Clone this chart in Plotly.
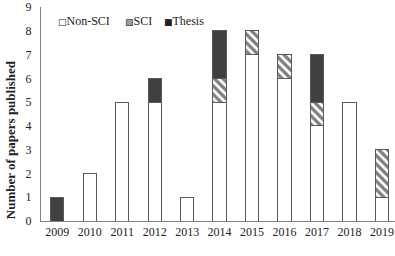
import plotly.graph_objects as go

years = ["2009", "2010", "2011", "2012", "2013", "2014", "2015", "2016", "2017", "2018", "2019"]
non_sci = [0, 2, 5, 5, 1, 5, 7, 6, 4, 5, 1]
sci = [0, 0, 0, 0, 0, 1, 1, 1, 1, 0, 2]
thesis = [1, 0, 0, 1, 0, 2, 0, 0, 2, 0, 0]
y_ticks = [0, 1, 2, 3, 4, 5, 6, 7, 8, 9]

font = "Liberation Serif, Times New Roman, serif"
edge = dict(color="#595959", width=1)

fig = go.Figure()
fig.add_trace(go.Bar(x=years, y=non_sci, name="Non-SCI",
                     marker=dict(color="white", line=edge)))
fig.add_trace(go.Bar(x=years, y=sci, name="SCI",
                     marker=dict(color="white", line=edge,
                                 pattern=dict(shape="\\", fgcolor="black", bgcolor="white",
                                              size=6, solidity=0.55))))
fig.add_trace(go.Bar(x=years, y=thesis, name="Thesis",
                     marker=dict(color="#404040", line=edge)))

sym = "<span style='font-family:DejaVu Sans;font-size:9px'>%s</span>"
legend_items = [("□", "Non-SCI", 0.042), ("▧", "SCI", 0.232), ("■", "Thesis", 0.342)]
for s, label, xp in legend_items:
    fig.add_annotation(xref="paper", yref="paper", x=xp, y=0.935, xanchor="left", yanchor="middle",
                       text=(sym % s) + label, showarrow=False,
                       font=dict(family=font, size=12, color="#222"))

fig.add_annotation(xref="paper", yref="paper", x=-0.086, y=0.38, xanchor="center", yanchor="middle",
                   text="<b>Number of papers published</b>", textangle=-90, showarrow=False,
                   font=dict(family=font, size=13, color="#222"))

fig.update_layout(
    barmode="stack",
    bargap=0.59,
    width=395, height=256,
    margin=dict(l=41, r=0, t=3, b=35),
    plot_bgcolor="white", paper_bgcolor="white",
    font=dict(family=font, size=12, color="#222"),
    showlegend=False,
    xaxis=dict(type="category", range=[-0.5, 10.4], showline=True, linecolor="#7f7f7f",
               linewidth=1, ticks="", showgrid=False, tickfont=dict(family=font, size=12)),
    yaxis=dict(range=[0, 9], tickvals=y_ticks, showline=True, linecolor="#7f7f7f", linewidth=1,
               ticks="", showgrid=False, zeroline=False, tickfont=dict(family=font, size=12),
               ticklabelstandoff=6, ticklabeloverflow="allow"),
)
fig.write_html("out.html")
